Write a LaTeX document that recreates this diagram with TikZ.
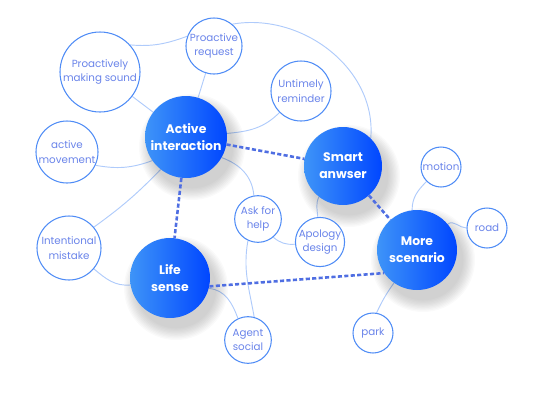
\documentclass[tikz,border=0pt]{standalone}
\usepackage{fontspec}
\setmainfont{Poppins}
\usetikzlibrary{positioning}

\definecolor{bigleft}{HTML}{3E94F8}
\definecolor{bigright}{HTML}{0046FF}
\definecolor{ringblue}{HTML}{4F8CF6}
\definecolor{smalltext}{HTML}{6A84EA}
\definecolor{linkblue}{HTML}{AFCBFB}
\definecolor{dashblue}{HTML}{4F6EE2}

\pgfdeclarelayer{back}
\pgfsetlayers{back,main}

\begin{document}
\begin{tikzpicture}[x=0.03cm,y=-0.03cm]
\tikzset{
  bignode/.style={circle,minimum size=#1,inner sep=0pt,align=center,text=white,
    left color=bigleft,right color=bigright,shading angle=90,
    font=\fontsize{10.6}{14.5}\selectfont\bfseries},
  smallnode/.style={circle,draw=ringblue,line width=0.9pt,fill=white,minimum size=#1,
    inner sep=0pt,align=center,text=smalltext,font=\fontsize{8.8}{12.6}\selectfont},
  thinlink/.style={draw=linkblue,line width=0.8pt},
  dashlink/.style={draw=dashblue,line width=2.2pt,dash pattern=on 3.5pt off 2pt}
}
\useasboundingbox (0,0) rectangle (560,410);
% soft shadows below the main topics
\foreach \sx/\sy/\sr in {192/147/41,349/176/39,176/288/40,423/260/40}
  \foreach \k in {0,...,9}
    \fill[black,opacity=0.018] (\sx,\sy) circle ({\sr+12-1.3*\k});
% main topics
\node[bignode=2.46cm] (n_act) at (186,137) {Active\\interaction};
\node[bignode=2.34cm] (n_smart) at (343,166) {Smart\\anwser};
\node[bignode=2.40cm] (n_life) at (170,278) {Life\\sense};
\node[bignode=2.40cm] (n_more) at (417,250) {More\\scenario};
% sub topics
\node[smallnode=2.40cm] (n_sound) at (100,72) {Proactively\\making sound};
\node[smallnode=1.68cm] (n_req) at (214,46) {Proactive\\request};
\node[smallnode=1.80cm] (n_remind) at (301,91) {Untimely\\reminder};
\node[smallnode=1.86cm] (n_move) at (67,152) {active\\movement};
\node[smallnode=1.92cm] (n_mistake) at (69,248) {Intentional\\mistake};
\node[smallnode=1.40cm] (n_ask) at (258,219) {Ask for\\help};
\node[smallnode=1.46cm] (n_apology) at (320,242) {Apology\\design};
\node[smallnode=1.40cm] (n_agent) at (248,340) {Agent\\social};
\node[smallnode=1.20cm] (n_motion) at (441,167) {motion};
\node[smallnode=1.20cm] (n_road) at (487,228) {road};
\node[smallnode=1.20cm] (n_park) at (373,333) {park};
\begin{pgfonlayer}{back}
% thin links
\draw[thinlink] (n_sound) -- (n_act);
\draw[thinlink] (n_sound.42) to[out=-5,in=200] (n_req.160);
\draw[thinlink] (n_req.50) to[out=10,in=85] (n_smart.45);
\draw[thinlink] (n_req) -- (n_act);
\draw[thinlink] (n_remind.225) to[out=225,in=5] (n_act.5);
\draw[thinlink] (n_move.-25) to[out=-10,in=200] (n_act.215);
\draw[thinlink] (n_mistake.40) to[bend right=5] (n_act.232);
\draw[thinlink] (n_mistake.-40) to[out=-40,in=185] (n_life.190);
\draw[thinlink] (n_act.-30) to[out=-20,in=95] (n_ask.100);
\draw[thinlink] (n_ask.-115) to[out=-100,in=100] (n_agent.75);
\draw[thinlink] (n_ask.-50) to[out=-40,in=185] (n_apology.185);
\draw[thinlink] (n_apology.95) to[out=95,in=-115] (n_smart.232);
\draw[thinlink] (n_life.-15) to[out=-5,in=110] (n_agent.115);
\draw[thinlink] (n_motion.225) to[out=225,in=90] (n_more.97);
\draw[thinlink] (n_road.180) to[out=180,in=40] (n_more.40);
\draw[thinlink] (n_park.80) to[bend left=5] (n_more.235);
\end{pgfonlayer}
% dashed links between main topics
\draw[dashlink] (n_act) -- (n_smart);
\draw[dashlink] (n_act) -- (n_life);
\draw[dashlink] (n_smart) -- (n_more);
\draw[dashlink] (n_life.-12) -- (n_more.215);
\end{tikzpicture}
\end{document}
